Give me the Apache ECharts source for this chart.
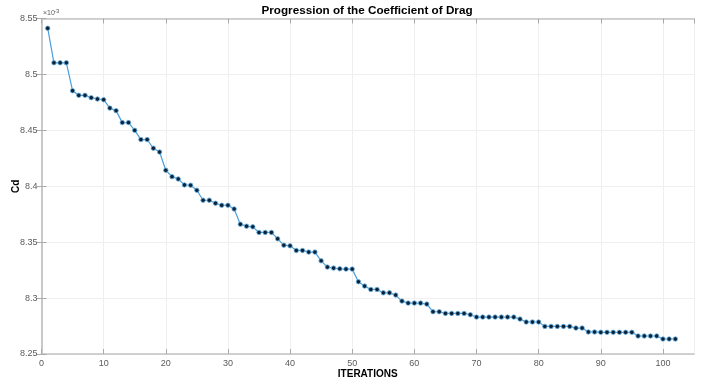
<!DOCTYPE html>
<html lang="en">
<head>
    <meta charset="UTF-8">
    <title>Progression of the Coefficient of Drag</title>
    <script src="https://cdn.jsdelivr.net/npm/echarts@6/dist/echarts.min.js"></script>
    <style>
        html, body { margin: 0; padding: 0; background: #fff; }
        #chart { width: 701px; height: 381px; }
    </style>
</head>
<body>
<div id="chart"></div>
<script>
    // Cd values, in units of 1e-3 (axis shows x10^-3)
    var cd = [
        8.5413, 8.5104, 8.5104, 8.5104, 8.4854, 8.4813, 8.4813, 8.4792, 8.4780, 8.4774,
        8.4699, 8.4676, 8.4569, 8.4569, 8.4500, 8.4417, 8.4417, 8.4340, 8.4306, 8.4143,
        8.4086, 8.4065, 8.4012, 8.4009, 8.3964, 8.3875, 8.3875, 8.3848, 8.3830, 8.3830,
        8.3797, 8.3661, 8.3643, 8.3637, 8.3587, 8.3587, 8.3587, 8.3530, 8.3473, 8.3467,
        8.3426, 8.3426, 8.3411, 8.3411, 8.3333, 8.3277, 8.3268, 8.3262, 8.3259, 8.3259,
        8.3146, 8.3107, 8.3077, 8.3077, 8.3047, 8.3047, 8.3027, 8.2973, 8.2955, 8.2955,
        8.2955, 8.2946, 8.2878, 8.2878, 8.2863, 8.2863, 8.2863, 8.2863, 8.2851, 8.2830,
        8.2830, 8.2830, 8.2830, 8.2830, 8.2830, 8.2830, 8.2812, 8.2786, 8.2786, 8.2786,
        8.2747, 8.2747, 8.2747, 8.2747, 8.2747, 8.2732, 8.2732, 8.2697, 8.2697, 8.2694,
        8.2694, 8.2694, 8.2694, 8.2694, 8.2694, 8.2661, 8.2661, 8.2661, 8.2661, 8.2634,
        8.2634, 8.2634
    ];
    var xTicks = [0, 10, 20, 30, 40, 50, 60, 70, 80, 90, 100];
    var yTicks = [8.25, 8.3, 8.35, 8.4, 8.45, 8.5, 8.55];

    // iteration number = position in the list (1-based)
    var points = [];
    for (var i = 0; i < cd.length; i++) {
        points.push([i + 1, cd[i]]);
    }

    var font = 'Liberation Sans, Arial, sans-serif';
    var axisColor = '#c4c4c4';
    var labelStyle = { color: '#5a5a5a', fontSize: 9, fontFamily: font };

    var chart = echarts.init(document.getElementById('chart'));
    var option = {
        animation: false,
        grid: { left: 41.5, right: 7, top: 18.5, bottom: 27, containLabel: false, outerBoundsMode: 'none' },
        graphic: [
            {
                type: 'text', x: 367, y: 5,
                style: { text: 'Progression of the Coefficient of Drag', fill: '#000',
                    font: 'bold 11.7px ' + font, textAlign: 'center' }
            },
            {
                type: 'text', x: 43, y: 10,
                style: { text: '\u00d710', fill: '#5a5a5a', font: '7px ' + font }
            },
            {
                type: 'text', x: 54, y: 8,
                style: { text: '-3', fill: '#5a5a5a', font: '6px ' + font }
            }
        ],
        xAxis: [
            {
                type: 'value', min: 0, max: 105, interval: 10,
                name: 'ITERATIONS', nameLocation: 'middle', nameGap: 15, nameMoveOverlap: false,
                nameTextStyle: { fontWeight: 'bold', fontSize: 10, color: '#000', fontFamily: font },
                axisLine: { lineStyle: { color: axisColor, width: 1.5 } },
                axisTick: { inside: true, length: 5, lineStyle: { color: '#aaa' } },
                axisLabel: Object.assign({ margin: 5, showMaxLabel: false,
                    formatter: function (v) { return xTicks.indexOf(v) >= 0 ? String(v) : ''; } }, labelStyle),
                splitLine: { show: true, lineStyle: { color: '#efefef' } }
            },
            {
                type: 'value', min: 0, max: 105, interval: 10, position: 'top',
                axisLine: { show: true, lineStyle: { color: axisColor, width: 1.5 } },
                axisTick: { show: true, inside: true, length: 5, lineStyle: { color: '#aaa' } },
                axisLabel: { show: false },
                splitLine: { show: false }
            }
        ],
        yAxis: [
            {
                type: 'value', min: 8.25, max: 8.55, interval: 0.05,
                name: 'Cd', nameLocation: 'middle', nameGap: 20, nameMoveOverlap: false,
                nameTextStyle: { fontWeight: 'bold', fontSize: 10, color: '#000', fontFamily: font },
                axisLine: { show: true, lineStyle: { color: axisColor, width: 1.5 } },
                axisTick: { show: true, inside: true, length: 5, lineStyle: { color: '#aaa' } },
                axisLabel: Object.assign({ margin: 4,
                    formatter: function (v) {
                        var r = Math.round(v * 100) / 100;
                        return yTicks.indexOf(r) >= 0 ? String(r) : '';
                    } }, labelStyle),
                splitLine: { show: true, lineStyle: { color: '#efefef' } }
            },
            {
                type: 'value', min: 8.25, max: 8.55, interval: 0.05, position: 'right',
                axisLine: { show: true, lineStyle: { color: axisColor, width: 1.5 } },
                axisTick: { show: true, inside: true, length: 5, lineStyle: { color: '#aaa' } },
                axisLabel: { show: false },
                splitLine: { show: false }
            }
        ],
        series: [{
            name: 'Cd',
            type: 'line',
            data: points,
            symbol: 'circle',
            symbolSize: 4.5,
            lineStyle: { color: '#4a9fdc', width: 1.2 },
            itemStyle: { color: '#0b2238', borderColor: '#6cb6e8', borderWidth: 0.8 }
        }]
    };
    chart.setOption(option);

    window.onresize = function () {
        chart.resize();
    };
</script>
</body>
</html>
